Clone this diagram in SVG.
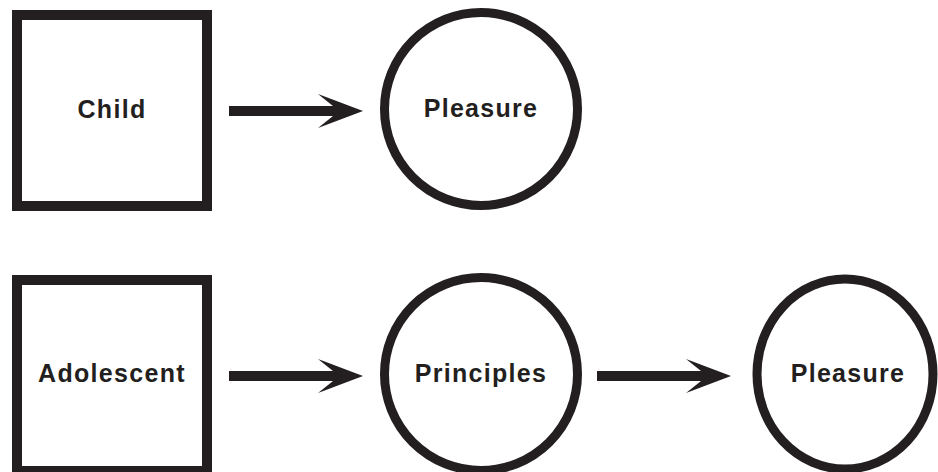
<svg xmlns="http://www.w3.org/2000/svg" width="938" height="472" viewBox="0 0 938 472">
<style>
.box{fill:#fff;stroke:#231f20;stroke-width:10}
.circ{fill:#fff;stroke:#231f20;stroke-width:9}
.lbl{font-family:"Liberation Sans",Arial,sans-serif;font-weight:bold;font-size:25px;fill:#231f20;text-anchor:middle;letter-spacing:1.3px}
.arr{fill:#231f20}
</style>
<defs>
<polygon id="arrow" points="0,-5 104,-5 89,-17 134,0 89,17 104,5 0,5"/>
</defs>
<rect x="0" y="0" width="938" height="472" fill="#fff"/>
<g id="child">
<rect class="box" x="17" y="15" width="190" height="191"/>
<text class="lbl" x="112" y="118">Child</text>
</g>
<g id="pleasure1">
<circle class="circ" cx="481" cy="109" r="96.5"/>
<text class="lbl" x="481" y="117">Pleasure</text>
</g>
<g id="adolescent">
<rect class="box" x="17" y="280" width="190" height="191"/>
<text class="lbl" x="112" y="382">Adolescent</text>
</g>
<g id="principles">
<circle class="circ" cx="481" cy="374" r="96.5"/>
<text class="lbl" x="481" y="382">Principles</text>
</g>
<g id="pleasure2">
<ellipse class="circ" cx="845" cy="374" rx="88" ry="95"/>
<text class="lbl" x="848" y="382">Pleasure</text>
</g>
<g id="connectors">
<use href="#arrow" class="arr" x="229" y="111"/>
<use href="#arrow" class="arr" x="229" y="376"/>
<use href="#arrow" class="arr" x="597" y="376"/>
</g>
</svg>
